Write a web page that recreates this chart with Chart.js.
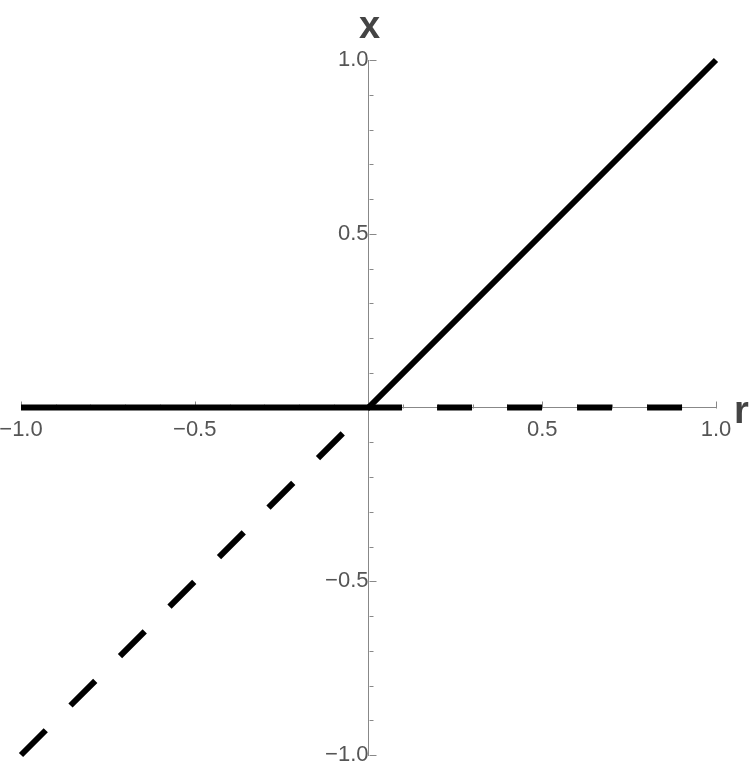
<!DOCTYPE html>
<html>
<head>
<meta charset="utf-8">
<script src="https://cdn.jsdelivr.net/npm/chart.js@4"></script>
<style>
  body { margin: 0; background: #fff; }
  canvas { display: block; }
</style>
</head>
<body>
<canvas id="chart" width="750" height="769"></canvas>
<script>
// r values and the two branches x(r)
const rValues = [-1, 0, 1];
const stableX = [0, 0, 1];     // solid
const unstableX = [-1, 0, 0];  // dashed
const tickValues = [-1, -0.5, 0, 0.5, 1];

const axisColor = "#888";
const labelColor = "#555";

function toPoints(xs, ys) {
    return xs.map((x, i) => ({ x: x, y: ys[i] }));
}

function fmt(v) {
    if (v === 0) return "";
    return (v < 0 ? "\u2212" : "") + Math.abs(v).toFixed(1);
}

// minor/major ticks on the inner side + axis titles
const axisDecor = {
    id: "axisDecor",
    beforeDatasetsDraw(chart) {
        const ctx = chart.ctx;
        const xs = chart.scales.x;
        const ys = chart.scales.y;
        const x0 = Math.round(xs.getPixelForValue(0)) + 0.5;
        const y0 = Math.round(ys.getPixelForValue(0)) + 0.5;
        ctx.save();
        ctx.strokeStyle = axisColor;
        ctx.lineWidth = 1;
        ctx.beginPath();
        for (let i = -10; i <= 10; i++) {
            if (i === 0) continue;
            const len = i % 5 === 0 ? 7 : 4;
            const px = Math.round(xs.getPixelForValue(i / 10)) + 0.5;
            ctx.moveTo(px, y0);
            ctx.lineTo(px, y0 - len);
            const py = Math.round(ys.getPixelForValue(i / 10)) + 0.5;
            ctx.moveTo(x0, py);
            ctx.lineTo(x0 + len, py);
        }
        ctx.stroke();

        ctx.fillStyle = "#444";
        ctx.font = "bold 38px 'Liberation Sans'";
        ctx.textAlign = "center";
        ctx.textBaseline = "alphabetic";
        ctx.fillText("x", x0, 38);
        ctx.textAlign = "left";
        ctx.fillText("r", xs.right + 18, y0 + 14);
        ctx.restore();
    }
};

new Chart(document.getElementById("chart"), {
    type: "line",
    data: {
        datasets: [
            {
                data: toPoints(rValues, stableX),
                borderColor: "#000",
                borderWidth: 6,
                borderCapStyle: "butt",
                pointRadius: 0,
                fill: false,
                clip: false,
            },
            {
                data: toPoints(rValues, unstableX),
                borderColor: "#000",
                borderWidth: 6,
                borderDash: [35, 35],
                borderCapStyle: "butt",
                pointRadius: 0,
                fill: false,
                clip: false,
            },
        ],
    },
    options: {
        responsive: false,
        animation: false,
        layout: {
            padding: { left: 21, right: 34, top: 60, bottom: 14 },
        },
        plugins: {
            legend: { display: false },
            tooltip: { enabled: false },
        },
        scales: {
            x: {
                type: "linear",
                min: -1,
                max: 1,
                position: { y: 0 },
                afterBuildTicks: (scale) => {
                    scale.ticks = tickValues.map((v) => ({ value: v }));
                },
                afterFit: (scale) => {
                    scale.paddingLeft = 0;
                    scale.paddingRight = 0;
                },
                grid: { display: false, drawTicks: false },
                border: { display: true, color: axisColor, width: 1 },
                ticks: {
                    padding: 9,
                    color: labelColor,
                    font: { family: "Liberation Sans", size: 22 },
                    maxRotation: 0,
                    autoSkip: false,
                    callback: (v) => fmt(v),
                },
            },
            y: {
                type: "linear",
                min: -1,
                max: 1,
                position: { x: 0 },
                afterBuildTicks: (scale) => {
                    scale.ticks = tickValues.map((v) => ({ value: v }));
                },
                afterFit: (scale) => {
                    scale.paddingTop = 0;
                    scale.paddingBottom = 0;
                },
                grid: { display: false, drawTicks: false },
                border: { display: true, color: axisColor, width: 1 },
                ticks: {
                    padding: 8,
                    color: labelColor,
                    font: { family: "Liberation Sans", size: 22 },
                    autoSkip: false,
                    callback: (v) => fmt(v),
                },
            },
        },
    },
    plugins: [axisDecor],
});
</script>
</body>
</html>
